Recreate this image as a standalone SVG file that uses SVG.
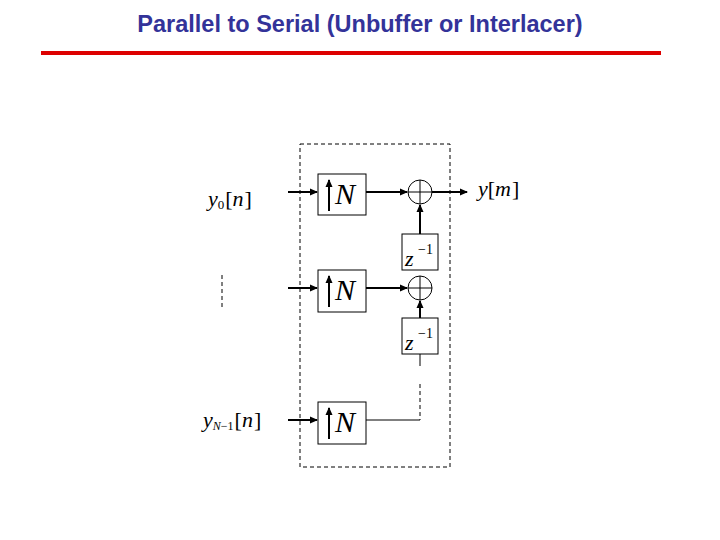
<svg xmlns="http://www.w3.org/2000/svg" width="720" height="540" viewBox="0 0 720 540">
<style>
.t{font-family:"Liberation Serif",serif;font-style:italic;fill:#000}
.b{fill:#fff;stroke:#000;stroke-width:1}
.w{stroke:#000;stroke-width:2;fill:none}
.n{stroke:#000;stroke-width:1;fill:none}
</style>
<defs><marker id="a" markerWidth="8" markerHeight="8" refX="7" refY="4" orient="auto" markerUnits="userSpaceOnUse"><path d="M0,0.5L8,4L0,7.5z" fill="#000"/></marker></defs>
<rect width="720" height="540" fill="#fff"/>
<text x="360" y="32" text-anchor="middle" font-family="Liberation Sans,Arial,sans-serif" font-size="23.5" font-weight="bold" fill="#333399">Parallel to Serial (Unbuffer or Interlacer)</text>
<line x1="41" y1="53" x2="661" y2="53" stroke="#dd0000" stroke-width="4"/>
<rect id="frame" x="300" y="144" width="150" height="323" fill="none" stroke="#000" stroke-dasharray="4,3"/>
<g id="connectors">
<line class="w" x1="288" y1="192" x2="317" y2="192" marker-end="url(#a)"/>
<line class="w" x1="366" y1="192" x2="407" y2="192" marker-end="url(#a)"/>
<line class="w" x1="432" y1="192" x2="467" y2="192" marker-end="url(#a)"/>
<line class="w" x1="420" y1="234" x2="420" y2="205" marker-end="url(#a)"/>
<line class="w" x1="288" y1="288" x2="317" y2="288" marker-end="url(#a)"/>
<line class="w" x1="366" y1="288" x2="407" y2="288" marker-end="url(#a)"/>
<line class="w" x1="420" y1="318" x2="420" y2="301" marker-end="url(#a)"/>
<line class="w" x1="288" y1="420" x2="317" y2="420" marker-end="url(#a)"/>
<line class="n" x1="420" y1="354" x2="420" y2="366"/>
<line class="n" x1="420" y1="384" x2="420" y2="420" stroke-dasharray="4,3"/>
<line class="n" x1="366" y1="420" x2="420" y2="420"/>
<line class="n" x1="222" y1="275" x2="222" y2="307" stroke-dasharray="4,3"/>
</g>
<g id="up1"><rect class="b" x="318" y="174" width="48" height="41"/><line class="w" x1="329" y1="211" x2="329" y2="180" marker-end="url(#a)"/><text class="t" x="335" y="204" font-size="30">N</text></g>
<g id="up2"><rect class="b" x="318" y="270" width="48" height="42"/><line class="w" x1="329" y1="307" x2="329" y2="276" marker-end="url(#a)"/><text class="t" x="335" y="300" font-size="30">N</text></g>
<g id="up3"><rect class="b" x="318" y="402" width="48" height="42"/><line class="w" x1="329" y1="439" x2="329" y2="408" marker-end="url(#a)"/><text class="t" x="335" y="432" font-size="30">N</text></g>
<g id="sum1"><circle class="b" cx="420" cy="192" r="12"/><path class="n" d="M408,192H432M420,180V204"/></g>
<g id="sum2"><circle class="b" cx="420" cy="288" r="12"/><path class="n" d="M408,288H432M420,276V300"/></g>
<g id="z1"><rect class="b" x="402" y="234" width="36" height="36"/><text class="t" x="405" y="266" font-size="22">z</text><text x="418" y="254" font-family="Liberation Serif,serif" font-size="14">−1</text></g>
<g id="z2"><rect class="b" x="402" y="318" width="36" height="36"/><text class="t" x="405" y="350" font-size="22">z</text><text x="418" y="338" font-family="Liberation Serif,serif" font-size="14">−1</text></g>
<g id="labels">
<text class="t" x="208" y="206" font-size="22">y<tspan font-style="normal" font-size="13" dy="3">0</tspan><tspan font-style="normal" dy="-3" dx="1">[</tspan>n<tspan font-style="normal" dx="1">]</tspan></text>
<text class="t" x="478" y="196" font-size="22">y<tspan font-style="normal">[</tspan>m<tspan font-style="normal" dx="1">]</tspan></text>
<text class="t" x="203" y="427" font-size="22">y<tspan font-size="12" dy="3">N</tspan><tspan font-style="normal" font-size="12">−1</tspan><tspan font-style="normal" dy="-3" dx="1">[</tspan>n<tspan font-style="normal" dx="1">]</tspan></text>
</g>
</svg>
